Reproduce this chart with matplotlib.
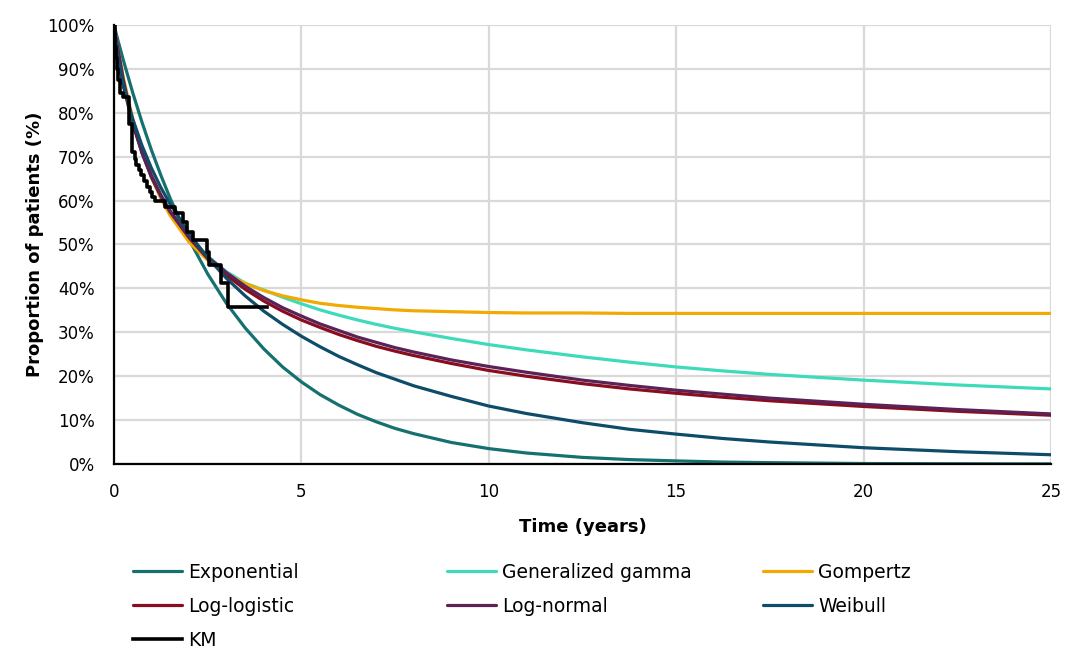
import matplotlib
matplotlib.use("Agg")
import matplotlib.pyplot as plt

# ---------------------------------------------------------------------------- #
#                                  Chart data                                  #
# ---------------------------------------------------------------------------- #

years = [0, 0.1, 0.25, 0.5, 0.75, 1, 1.25, 1.5, 2, 2.5, 3, 3.5, 4, 4.5, 5, 5.5,
         6, 6.5, 7, 7.5, 8, 9, 10, 11, 12.5, 13.75, 15, 16.25, 17.5, 20, 22.5, 25]

exponential = [100, 96.7, 92.0, 84.6, 77.8, 71.5, 65.8, 60.5, 51.2, 43.3, 36.6,
               31.0, 26.2, 22.1, 18.7, 15.8, 13.4, 11.3, 9.6, 8.1, 6.9, 4.9,
               3.5, 2.5, 1.5, 1.0, 0.7, 0.43, 0.3, 0.1, 0.05, 0.02]
gen_gamma = [100, 93.5, 86.5, 77.5, 70.8, 65.4, 61.2, 57.6, 51.8, 47.3, 43.8,
             41.2, 39.6, 38.0, 36.5, 35.1, 33.9, 32.8, 31.8, 30.9, 30.1, 28.6,
             27.2, 26.0, 24.4, 23.2, 22.1, 21.2, 20.4, 19.1, 18.0, 17.1]
gompertz = [100, 94.9, 88.0, 78.7, 71.3, 65.3, 60.5, 56.6, 50.6, 46.4, 43.3,
            41.1, 39.5, 38.3, 37.4, 36.6, 36.1, 35.7, 35.4, 35.1, 34.9, 34.7,
            34.5, 34.4, 34.4, 34.3, 34.3, 34.3, 34.3, 34.3, 34.3, 34.3]
log_logistic = [100, 93.1, 86.2, 77.6, 71.0, 65.7, 61.3, 57.6, 51.6, 46.8, 43.0,
                39.8, 37.1, 34.8, 32.8, 31.1, 29.5, 28.1, 26.8, 25.7, 24.7, 22.9,
                21.3, 20.0, 18.3, 17.1, 16.1, 15.2, 14.4, 13.1, 12.0, 11.1]
log_normal = [100, 95.0, 87.5, 77.8, 70.8, 65.3, 61.0, 57.4, 51.7, 47.2, 43.6,
              40.5, 37.9, 35.6, 33.7, 31.9, 30.4, 28.9, 27.7, 26.5, 25.5, 23.7,
              22.2, 20.9, 19.1, 17.9, 16.8, 15.9, 15.0, 13.6, 12.4, 11.4]
weibull = [100, 92.6, 86.3, 78.6, 72.5, 67.4, 63.0, 59.2, 52.5, 47.0, 42.3,
           38.3, 34.8, 31.8, 29.1, 26.7, 24.5, 22.6, 20.8, 19.3, 17.8, 15.4,
           13.2, 11.5, 9.4, 7.9, 6.8, 5.8, 5.0, 3.7, 2.8, 2.1]

km_years = [0, 0.03, 0.05, 0.08, 0.11, 0.15, 0.25, 0.40, 0.48, 0.55, 0.60, 0.66,
            0.72, 0.80, 0.88, 0.95, 1.02, 1.10, 1.36, 1.63, 1.85, 1.94, 2.12,
            2.47, 2.54, 2.85, 3.05, 4.07]
km_surv = [100, 95, 92.5, 90, 87.5, 84.5, 83.5, 77.5, 71.0, 69.5, 68.0, 67.0,
           65.8, 64.5, 63.2, 62.0, 60.8, 60.0, 58.6, 57.1, 55.2, 52.9, 51.0,
           48.4, 45.3, 41.2, 35.8, 35.8]

models = [
    ("Exponential", exponential, "#15716F"),
    ("Generalized gamma", gen_gamma, "#3DDBB9"),
    ("Gompertz", gompertz, "#F2A900"),
    ("Log-logistic", log_logistic, "#8A0C1F"),
    ("Log-normal", log_normal, "#5A2257"),
    ("Weibull", weibull, "#0E4C6A"),
]

x_ticks = [0, 5, 10, 15, 20, 25]
y_ticks = [0, 10, 20, 30, 40, 50, 60, 70, 80, 90, 100]

# ---------------------------------------------------------------------------- #
#                                   Plotting                                   #
# ---------------------------------------------------------------------------- #

plt.rcParams['font.family'] = ['DejaVu Sans']

fig = plt.figure(figsize=(10.67, 6.5), dpi=100)
ax = fig.add_axes([0.1068, 0.2862, 0.8782, 0.6753])

handles = {}
for name, vals, color in models:
    h, = ax.plot(years, vals, color=color, linewidth=2.3,
                 solid_capstyle='round', solid_joinstyle='round')
    handles[name] = h

h, = ax.plot(km_years, km_surv, color="black", linewidth=2.6, drawstyle='steps-post')
handles["KM"] = h

ax.set_xlim(0, 25)
ax.set_ylim(0, 100)
ax.set_xticks(x_ticks)
ax.set_yticks(y_ticks)
ax.set_yticklabels([f"{v}%" for v in y_ticks])
ax.tick_params(length=0, labelsize=12, pad=14)
ax.grid(True, color="#D9D9D9", linewidth=1.6)
ax.set_axisbelow(True)

for side in ("top", "right"):
    ax.spines[side].set_visible(False)
for side in ("left", "bottom"):
    ax.spines[side].set_color("black")
    ax.spines[side].set_linewidth(1.6)

ax.set_xlabel("Time (years)", fontsize=13, fontweight='bold', labelpad=12)
ax.set_ylabel("Proportion of patients (%)", fontsize=13, fontweight='bold', labelpad=2)

# Legend as three columns placed by hand
columns = [
    (["Exponential", "Log-logistic", "KM"], 133),
    (["Generalized gamma", "Log-normal"], 447),
    (["Gompertz", "Weibull"], 763),
]
for names, x_px in columns:
    fig.legend([handles[n] for n in names], names,
               loc='upper left', bbox_to_anchor=(x_px / 1067, 1 - 563 / 650),
               frameon=False, fontsize=13.5, handlelength=2.6,
               handletextpad=0.35, labelspacing=0.8, borderpad=0,
               borderaxespad=0)

fig.savefig("out.png", dpi=100)
